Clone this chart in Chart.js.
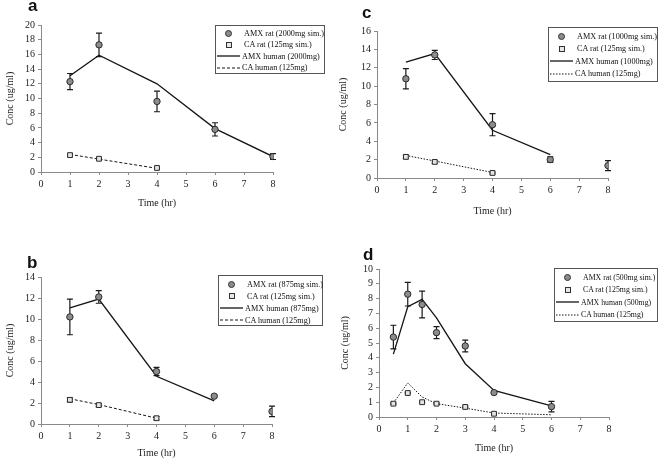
<!DOCTYPE html>
<html><head><meta charset="utf-8">
<script src="https://cdn.jsdelivr.net/npm/chart.js@4.4.1/dist/chart.umd.min.js"></script>
<style>
html,body{margin:0;padding:0;background:#fff;}
#wrap{position:relative;width:659px;height:462px;overflow:hidden;font-family:'Liberation Serif','Times New Roman',serif;}
.panel{position:absolute;}
.letter{position:absolute;font-family:'Liberation Sans',Arial,sans-serif;font-weight:bold;font-size:17px;line-height:17px;color:#111;}
.leg{position:absolute;box-sizing:border-box;border:1px solid #555;background:#fff;font-size:8.2px;color:#111;padding:2px 0;filter:grayscale(1);}
.row{display:flex;align-items:center;white-space:nowrap;}
.mk{flex:none;display:flex;align-items:center;justify-content:center;}
.cir{width:5px;height:5px;border-radius:50%;background:#8c8c8c;border:1px solid #333;}
.sq{width:4px;height:4px;background:#e6e6e6;border:1px solid #333;}
</style></head>
<body><div id="wrap">
<div class="panel" style="left:0;top:0"><canvas id="cA" width="330" height="231"></canvas></div>
<div class="panel" style="left:330px;top:0"><canvas id="cC" width="329" height="231"></canvas></div>
<div class="panel" style="left:0;top:231px"><canvas id="cB" width="330" height="231"></canvas></div>
<div class="panel" style="left:330px;top:231px"><canvas id="cD" width="329" height="231"></canvas></div>
<div class="letter" style="left:28px;top:-3px">a</div>
<div class="letter" style="left:362px;top:4px">c</div>
<div class="letter" style="left:27px;top:254px">b</div>
<div class="letter" style="left:363px;top:246px">d</div>
</div>
<script>
// ---------- data ----------
const tickStep = 1;
// Panel a
const timesA = [1, 2, 4, 6, 8];
const amxRatA = [12.3, 17.3, 9.6, 5.8, 2.1];
const amxRatErrA = [1.1, 1.6, 1.4, 0.9, 0.4];
const amxHumanA = [13.1, 15.9, 12.0, 5.9, 2.1];
const caTimesA = [1, 2, 4];
const caRatA = [2.3, 1.8, 0.55];
const caRatErrA = [0.15, 0.1, 0.1];
const caHumanA = [2.4, 1.75, 0.5];
const labelsA = ['AMX rat (2000mg sim.)', 'CA rat (125mg sim.)', 'AMX human (2000mg)', 'CA human (125mg)'];
// Panel c
const timesC = [1, 2, 4, 6, 8];
const amxRatC = [10.8, 13.4, 5.8, 2.0, 1.35];
const amxRatErrC = [1.1, 0.5, 1.2, 0.3, 0.55];
const amxHumanTimesC = [1, 2, 4, 6];
const amxHumanC = [12.6, 13.55, 5.2, 2.55];
const caTimesC = [1, 2, 4];
const caRatC = [2.3, 1.75, 0.55];
const caRatErrC = [0.2, 0.15, 0.1];
const caHumanC = [2.45, 1.85, 0.6];
const labelsC = ['AMX rat (1000mg sim.)', 'CA rat (125mg sim.)', 'AMX human (1000mg)', 'CA human (125mg)'];
// Panel b
const timesB = [1, 2, 4, 6, 8];
const amxRatB = [10.2, 12.1, 5.0, 2.65, 1.2];
const amxRatErrB = [1.7, 0.6, 0.4, 0.1, 0.5];
const amxHumanTimesB = [1, 2, 4, 6];
const amxHumanB = [11.05, 11.9, 4.55, 2.2];
const caTimesB = [1, 2, 4];
const caRatB = [2.3, 1.8, 0.55];
const caRatErrB = [0.2, 0.15, 0.15];
const caHumanB = [2.4, 1.85, 0.55];
const labelsB = ['AMX rat (875mg sim.)', 'CA rat (125mg sim.)', 'AMX human (875mg)', 'CA human (125mg)'];
// Panel d
const timesD = [0.5, 1, 1.5, 2, 3, 4, 6];
const amxRatD = [5.4, 8.3, 7.6, 5.7, 4.8, 1.65, 0.7];
const amxRatErrD = [0.8, 0.8, 0.9, 0.4, 0.4, 0.05, 0.35];
const amxHumanD = [4.25, 7.45, 7.95, 6.7, 3.6, 1.8, 0.75];
const caTimesD = [0.5, 1, 1.5, 2, 3, 4];
const caRatD = [0.9, 1.62, 1.0, 0.9, 0.68, 0.22];
const caRatErrD = [0.05, 0.05, 0.05, 0.05, 0.05, 0.05];
const caHumanTimesD = [0.5, 1, 1.5, 2, 3, 4, 6];
const caHumanD = [0.95, 2.3, 1.35, 0.9, 0.6, 0.27, 0.15];
const labelsD = ['AMX rat (500mg sim.)', 'CA rat (125mg sim.)', 'AMX human (500mg)', 'CA human (125mg)'];

const xTitle = 'Time (hr)';
const yTitle = 'Conc (ug/ml)';

// ---------- helpers ----------
const pts = (xs, ys) => xs.map((x, i) => ({x, y: ys[i]}));
Chart.defaults.font.family = "'Liberation Serif','Times New Roman',serif";
Chart.defaults.font.size = 10;
Chart.defaults.color = '#222';

const errorBars = {
  id: 'errorBars',
  beforeDatasetsDraw(chart) {
    const {ctx, scales: {x, y}} = chart;
    ctx.save();
    ctx.strokeStyle = '#1a1a1a';
    ctx.lineWidth = 1.2;
    chart.data.datasets.forEach(ds => {
      if (!ds.errors) return;
      ds.data.forEach((p, j) => {
        const e = ds.errors[j];
        if (!e) return;
        const px = x.getPixelForValue(p.x);
        const yt = y.getPixelForValue(p.y + e), yb = y.getPixelForValue(p.y - e);
        ctx.beginPath();
        ctx.moveTo(px, yt); ctx.lineTo(px, yb);
        ctx.moveTo(px - 3, yt); ctx.lineTo(px + 3, yt);
        ctx.moveTo(px - 3, yb); ctx.lineTo(px + 3, yb);
        ctx.stroke();
      });
    });
    ctx.restore();
  }
};

function makeChart(id, p) {
  const datasets = [
    {label: p.labels[0], data: pts(p.amxT, p.amxRat), errors: p.amxErr, showLine: false,
     pointStyle: 'circle', pointRadius: 3.2, pointBackgroundColor: '#8c8c8c', pointBorderColor: '#2a2a2a', pointBorderWidth: 1},
    {label: p.labels[1], data: pts(p.caT, p.caRat), errors: p.caErr, showLine: false,
     pointStyle: 'rect', pointRadius: 3.4, pointBackgroundColor: '#e4e4e4', pointBorderColor: '#2a2a2a', pointBorderWidth: 1},
    {label: p.labels[2], data: pts(p.amxHT, p.amxHuman), showLine: true, borderColor: '#151515', borderWidth: 1.3, pointRadius: 0, fill: false},
    {label: p.labels[3], data: pts(p.caHT, p.caHuman), showLine: true, borderColor: '#151515', borderWidth: 1, borderDash: p.dash, pointRadius: 0, fill: false}
  ];
  const chart = new Chart(document.getElementById(id), {
    type: 'scatter',
    data: {datasets},
    options: {
      responsive: false, animation: false, events: [],
      layout: {padding: {left: 0, top: p.top, right: p.right, bottom: 0}},
      plugins: {legend: {display: false}, tooltip: {enabled: false}},
      scales: {
        x: {type: 'linear', min: 0, max: 8,
            afterFit(s) { s.height = p.xH; },
            ticks: {stepSize: tickStep, autoSkip: false, maxRotation: 0, padding: 3, font: {size: 10}},
            grid: {drawOnChartArea: false, tickLength: 3, color: '#8a8a8a'},
            border: {color: '#8a8a8a'},
            title: {display: true, text: xTitle, padding: {top: 0, bottom: p.xTP}, font: {size: 10}}},
        y: {type: 'linear', min: 0, max: p.yMax,
            afterFit(s) { s.width = p.yW; },
            ticks: {stepSize: p.yStep, autoSkip: false, padding: 3, font: {size: 10}},
            grid: {drawOnChartArea: false, tickLength: 3, color: '#8a8a8a'},
            border: {color: '#8a8a8a'},
            title: {display: true, text: yTitle, padding: {top: p.yTP, bottom: 0}, font: {size: 10}}}
      }
    },
    plugins: [errorBars]
  });
  // HTML legend built from the chart datasets
  const L = p.leg;
  const box = document.createElement('div');
  box.className = 'leg';
  Object.assign(box.style, {left: L.left + 'px', top: L.top + 'px', width: L.w + 'px', height: L.h + 'px', fontSize: L.fs + 'px'});
  chart.data.datasets.forEach((ds, i) => {
    const row = document.createElement('div');
    row.className = 'row';
    row.style.height = L.rowH + 'px';
    const mk = document.createElement('div');
    mk.className = 'mk';
    mk.style.width = L.mkW + 'px';
    if (i === 0) mk.innerHTML = '<div class="cir"></div>';
    else if (i === 1) mk.innerHTML = '<div class="sq"></div>';
    else {
      const dash = ds.borderDash ? ds.borderDash.join(',') : 'none';
      mk.innerHTML = '<svg width="' + L.mkW + '" height="4"><line x1="1" y1="2" x2="' + (L.mkW - 1) + '" y2="2" stroke="#151515" stroke-width="' + ds.borderWidth + '" stroke-dasharray="' + dash + '"/></svg>';
    }
    const tx = document.createElement('span');
    tx.textContent = ds.label;
    tx.style.marginLeft = (i < 2 ? 3 : 1) + 'px';
    row.appendChild(mk); row.appendChild(tx);
    box.appendChild(row);
  });
  document.getElementById(id).parentNode.appendChild(box);
}

makeChart('cA', {labels: labelsA, amxT: timesA, amxRat: amxRatA, amxErr: amxRatErrA, caT: caTimesA, caRat: caRatA, caErr: caRatErrA,
  amxHT: timesA, amxHuman: amxHumanA, caHT: caTimesA, caHuman: caHumanA, dash: [3, 2], yMax: 20, yStep: 2,
  top: 25, right: 57, yW: 41, yTP: 4, xH: 59, xTP: 22,
  leg: {left: 215, top: 25, w: 110, h: 49, rowH: 11.3, mkW: 25, fs: 8.2}});
makeChart('cC', {labels: labelsC, amxT: timesC, amxRat: amxRatC, amxErr: amxRatErrC, caT: caTimesC, caRat: caRatC, caErr: caRatErrC,
  amxHT: amxHumanTimesC, amxHuman: amxHumanC, caHT: caTimesC, caHuman: caHumanC, dash: [1.5, 1.5], yMax: 16, yStep: 2,
  top: 31, right: 51, yW: 47, yTP: 7, xH: 53, xTP: 14,
  leg: {left: 218, top: 27, w: 110, h: 55, rowH: 12.5, mkW: 25, fs: 8.2}});
makeChart('cB', {labels: labelsB, amxT: timesB, amxRat: amxRatB, amxErr: amxRatErrB, caT: caTimesB, caRat: caRatB, caErr: caRatErrB,
  amxHT: amxHumanTimesB, amxHuman: amxHumanB, caHT: caTimesB, caHuman: caHumanB, dash: [3, 2], yMax: 14, yStep: 2,
  top: 46, right: 58, yW: 41, yTP: 4, xH: 38, xTP: 3,
  leg: {left: 218, top: 44, w: 105, h: 51, rowH: 12, mkW: 25, fs: 8.2}});
makeChart('cD', {labels: labelsD, amxT: timesD, amxRat: amxRatD, amxErr: amxRatErrD, caT: caTimesD, caRat: caRatD, caErr: caRatErrD,
  amxHT: timesD, amxHuman: amxHumanD, caHT: caHumanTimesD, caHuman: caHumanD, dash: [1.5, 1.5], yMax: 10, yStep: 1,
  top: 38, right: 50, yW: 49, yTP: 9, xH: 45, xTP: 8,
  leg: {left: 224, top: 37, w: 104, h: 54, rowH: 12.5, mkW: 25, fs: 7.8}});
</script>
</body></html>
